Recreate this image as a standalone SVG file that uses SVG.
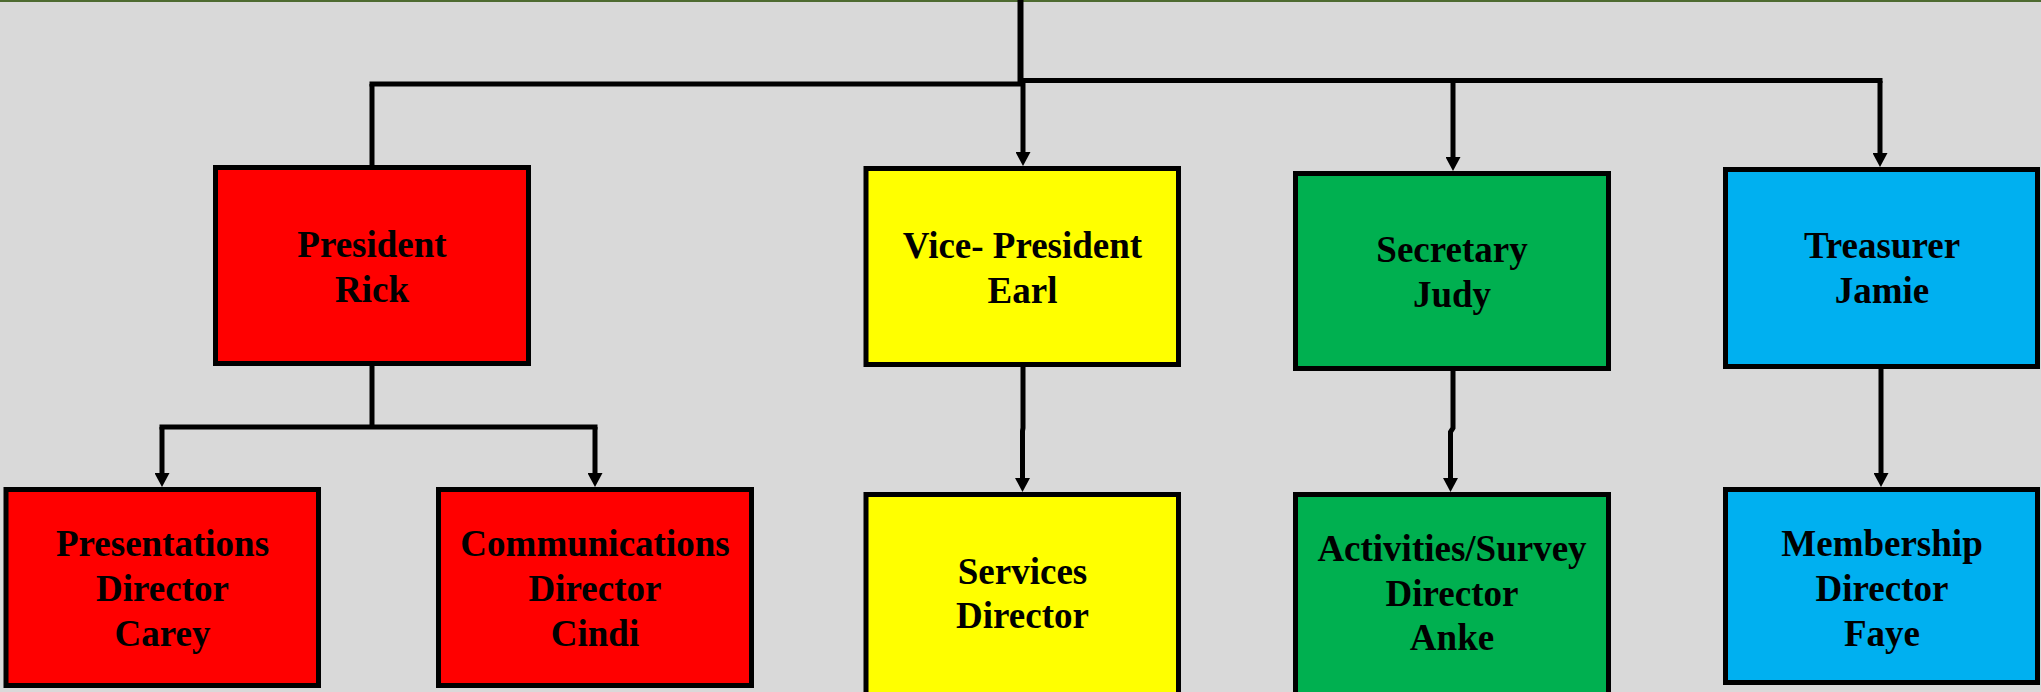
<svg xmlns="http://www.w3.org/2000/svg" width="2041" height="692" viewBox="0 0 2041 692">
<style>
.box{stroke:#000;stroke-width:5}
.red{fill:#ff0000}.yel{fill:#ffff00}.grn{fill:#00b050}.blu{fill:#00b0f0}
.t{font-family:"Liberation Serif","Times New Roman",serif;font-weight:bold;font-size:37px;fill:#000;text-anchor:middle}
.c{fill:none;stroke:#000;stroke-width:5}
.a{marker-end:url(#arr)}
</style>
<defs>
<marker id="arr" viewBox="0 0 14 15" markerWidth="14" markerHeight="15" refX="6" refY="7.5" orient="auto" markerUnits="userSpaceOnUse">
<path d="M0,0 L14,7.5 L0,15 Z" fill="#000"/>
</marker>
</defs>
<rect x="0" y="0" width="2041" height="692" fill="#d9d9d9"/>
<rect x="0" y="0" width="2041" height="2" fill="#4e6b31"/>
<g id="connectors">
<path d="M1020.5 0 V83" fill="none" stroke="#000" stroke-width="6"/>
<path class="c" d="M369.5 84 H1021"/>
<path class="c" d="M1018 80.5 H1882.5"/>
<path class="c" d="M372 84 V166"/>
<path class="c a" d="M1023 81 V158"/>
<path class="c a" d="M1453 81 V163"/>
<path class="c a" d="M1880 81 V159"/>
<path class="c" d="M372 365 V427"/>
<path class="c" d="M159.5 427 H597.5"/>
<path class="c a" d="M162 427 V479"/>
<path class="c a" d="M595 427 V479"/>
<path class="c a" d="M1023 366 V428 L1022.5 431 V484"/>
<path class="c a" d="M1453 371 V428 L1450.5 432 V484"/>
<path class="c a" d="M1881 368 V479"/>
</g>
<g id="president">
<rect class="box red" x="215.5" y="167.5" width="313" height="196"/>
<text class="t" x="372" y="257">President</text>
<text class="t" x="372" y="302">Rick</text>
</g>
<g id="vice-president">
<rect class="box yel" x="866" y="168.5" width="312.5" height="196"/>
<text class="t" x="1022.5" y="258">Vice- President</text>
<text class="t" x="1022.5" y="303">Earl</text>
</g>
<g id="secretary">
<rect class="box grn" x="1295.5" y="173.5" width="313" height="195"/>
<text class="t" x="1452" y="262">Secretary</text>
<text class="t" x="1452" y="307">Judy</text>
</g>
<g id="treasurer">
<rect class="box blu" x="1725.5" y="169.5" width="312" height="197"/>
<text class="t" x="1882" y="258">Treasurer</text>
<text class="t" x="1882" y="303">Jamie</text>
</g>
<g id="presentations">
<rect class="box red" x="6" y="489.5" width="312.5" height="196"/>
<text class="t" x="162.5" y="556">Presentations</text>
<text class="t" x="162.5" y="601">Director</text>
<text class="t" x="162.5" y="646">Carey</text>
</g>
<g id="communications">
<rect class="box red" x="438.5" y="489.5" width="313" height="196"/>
<text class="t" x="595" y="556">Communications</text>
<text class="t" x="595" y="601">Director</text>
<text class="t" x="595" y="646">Cindi</text>
</g>
<g id="services">
<rect class="box yel" x="866" y="494.5" width="312.5" height="200"/>
<text class="t" x="1022.5" y="584">Services</text>
<text class="t" x="1022.5" y="628">Director</text>
</g>
<g id="activities">
<rect class="box grn" x="1295.5" y="494.5" width="313" height="200"/>
<text class="t" x="1452" y="561">Activities/Survey</text>
<text class="t" x="1452" y="606">Director</text>
<text class="t" x="1452" y="650">Anke</text>
</g>
<g id="membership">
<rect class="box blu" x="1725.5" y="489.5" width="312" height="193"/>
<text class="t" x="1882" y="556">Membership</text>
<text class="t" x="1882" y="601">Director</text>
<text class="t" x="1882" y="646">Faye</text>
</g>
</svg>
